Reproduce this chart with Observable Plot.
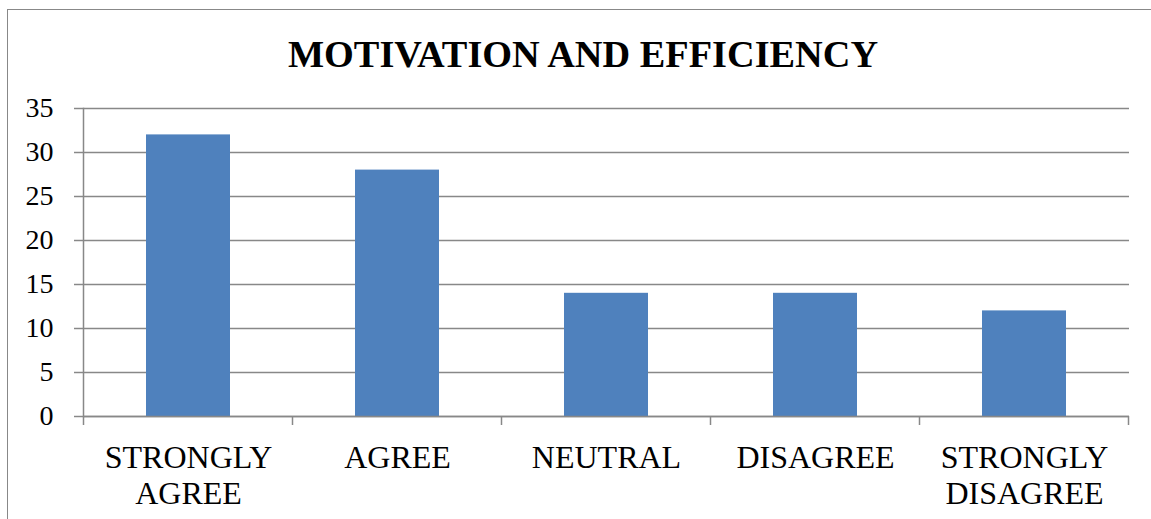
<!DOCTYPE html>
<html>
<head>
<meta charset="utf-8">
<script src="https://cdn.jsdelivr.net/npm/d3@7"></script>
<script src="https://cdn.jsdelivr.net/npm/@observablehq/plot@0.6"></script>
<style>
  html, body { margin: 0; padding: 0; background: #fff; }
  #wrap { position: relative; width: 1151px; height: 519px; overflow: hidden; font-family: "Liberation Serif", serif; }
  #border { position: absolute; left: 7px; top: 9px; width: 1200px; height: 600px; border: 1.5px solid #888; box-sizing: border-box; }
  #head { position: relative; height: 80px; }
  #title { position: absolute; left: 15px; width: 1136px; top: 35px; text-align: center; font-weight: bold; font-size: 38.3px; line-height: 38px; color: #000; font-family: "Liberation Serif", serif; }
  #chart { position: relative; }
  #chart svg, #chart svg text { font-family: "Liberation Serif", serif !important; }
</style>
</head>
<body>
<div id="wrap">
  <div id="border"></div>
  <div id="head"><div id="title">MOTIVATION AND EFFICIENCY</div></div>
  <div id="chart"></div>
</div>
<script>
const categories = ["STRONGLY AGREE", "AGREE", "NEUTRAL", "DISAGREE", "STRONGLY DISAGREE"];
const tickLabels = ["STRONGLY\nAGREE", "AGREE", "NEUTRAL", "DISAGREE", "STRONGLY\nDISAGREE"];
const values = [32, 28, 14, 14, 12];
const yTicks = [0, 5, 10, 15, 20, 25, 30, 35];

const data = categories.map((c, i) => ({category: c, value: values[i]}));
const gray = "#888888";
const serif = "Liberation Serif";

const chart = Plot.plot({
  width: 1151,
  height: 439,
  marginTop: 28,
  marginBottom: 103,
  marginLeft: 83,
  marginRight: 22,
  style: {fontFamily: serif, color: "#000", background: "transparent"},
  x: {domain: categories, paddingInner: 0.6, paddingOuter: 0.3},
  y: {domain: [0, 35]},
  marks: [
    Plot.gridY(yTicks, {stroke: gray, strokeOpacity: 1, strokeWidth: 1.5}),
    Plot.barY(data, {x: "category", y: "value", fill: "#4F81BD"}),
    Plot.axisY(yTicks, {tickSize: 9, tickPadding: 21, stroke: gray, strokeWidth: 1.5, label: null, fill: "#000", fontSize: 28, fontFamily: serif}),
    Plot.axisX({tickSize: 0, tickPadding: 25, tickFormat: d => tickLabels[categories.indexOf(d)], label: null, lineHeight: 1.15, fill: "#000", fontSize: 32, fontFamily: serif}),
    Plot.ruleY([0], {stroke: gray, strokeWidth: 1.5}),
    Plot.frame({anchor: "left", stroke: gray, strokeWidth: 1.5})
  ]
});

// category boundary tick marks below the x axis, computed from Plot's x scale
const xs = chart.scale("x");
const ys = chart.scale("y");
const gap = (xs.step - xs.bandwidth) / 2;
const bounds = categories.map(c => xs.apply(c) - gap);
bounds.push(xs.apply(categories[categories.length - 1]) + xs.bandwidth + gap);
const y0 = ys.apply(0);
d3.select(chart).append("g")
  .attr("stroke", gray).attr("stroke-width", 1.5)
  .selectAll("line").data(bounds).join("line")
  .attr("x1", d => d).attr("x2", d => d)
  .attr("y1", y0).attr("y2", y0 + 9);

document.getElementById("chart").appendChild(chart);
</script>
</body>
</html>
